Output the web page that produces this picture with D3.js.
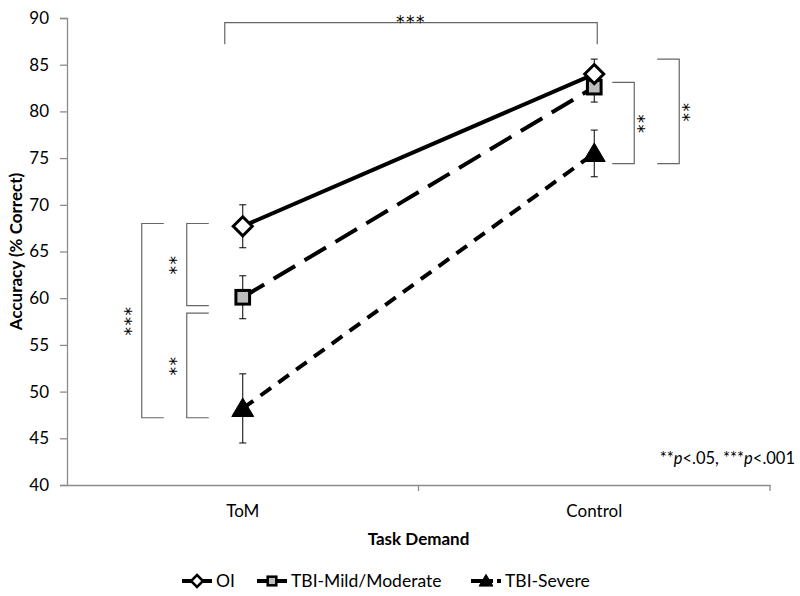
<!DOCTYPE html>
<html>
<head>
<meta charset="utf-8">
<script src="https://cdn.jsdelivr.net/npm/d3@7"></script>
<style>
  body { margin: 0; background: #fff; }
  text { font-family: Lato, "Open Sans", sans-serif; fill: #000; }
  .stars { font-family: "DejaVu Sans", sans-serif; }
</style>
</head>
<body>
<div id="chart"></div>
<script>
const svgWidth = 800, svgHeight = 596;

// data
const categories = ['ToM', 'Control'];
const seriesNames = ['OI', 'TBI-Mild/Moderate', 'TBI-Severe'];
const oiValues = [67.7, 84.0];
const mildValues = [60.1, 82.6];
const severeValues = [48.2, 75.5];
const oiErrors = [2.3, 1.6];
const mildErrors = [2.3, 1.6];
const severeErrors = [3.7, 2.5];
const yTicks = [40, 45, 50, 55, 60, 65, 70, 75, 80, 85, 90];

// significance brackets (values in % correct)
const leftBrackets = [
  { top: 68.0, bottom: 47.2, label: '***', level: 0 },
  { top: 68.0, bottom: 59.2, label: '**', level: 1 },
  { top: 58.4, bottom: 47.2, label: '**', level: 1 }
];
const rightBrackets = [
  { top: 83.1, bottom: 74.4, label: '**', level: 0 },
  { top: 85.6, bottom: 74.4, label: '**', level: 1 }
];
const topBracket = { y: 89.5, legEnd: 87.2, label: '***' };

const margin = { top: 18, right: 30, bottom: 111, left: 67 };

const svg = d3.select('#chart').append('svg')
  .attr('width', svgWidth)
  .attr('height', svgHeight);

const x = d3.scaleBand()
  .domain(categories)
  .range([margin.left, svgWidth - margin.right]);

const y = d3.scaleLinear()
  .domain([40, 90])
  .range([svgHeight - margin.bottom, margin.top]);

const cx = c => x(c) + x.bandwidth() / 2;

// axes
const yAxis = svg.append('g')
  .attr('transform', `translate(${margin.left},0)`)
  .call(d3.axisLeft(y).tickValues(yTicks).tickSize(7).tickPadding(11));
yAxis.selectAll('path, line').attr('stroke', '#8c8c8c').attr('stroke-width', 1.3);
yAxis.selectAll('text').style('font-size', '17px').attr('fill', '#000');

const xAxis = svg.append('g')
  .attr('transform', `translate(0,${y(40)})`)
  .call(d3.axisBottom(x).tickSize(0).tickPadding(20).tickSizeOuter(0));
xAxis.select('.domain').attr('stroke', '#8c8c8c').attr('stroke-width', 1.3);
xAxis.selectAll('text').style('font-size', '17px').attr('fill', '#000');
// tick marks between categories
xAxis.selectAll('.sep')
  .data([x('Control'), x.range()[1]])
  .enter().append('line')
  .attr('x1', d => d).attr('x2', d => d)
  .attr('y1', 0).attr('y2', 6)
  .attr('stroke', '#8c8c8c').attr('stroke-width', 1.3);

// axis titles
svg.append('text')
  .attr('transform', `translate(22,${(y(40) + y(90)) / 2}) rotate(-90)`)
  .attr('text-anchor', 'middle')
  .style('font-size', '17px').style('font-weight', 'bold')
  .text('Accuracy (% Correct)');

svg.append('text')
  .attr('x', (x.range()[0] + x.range()[1]) / 2)
  .attr('y', 545)
  .attr('text-anchor', 'middle')
  .style('font-size', '17px').style('font-weight', 'bold')
  .text('Task Demand');

// series
const series = [
  { name: seriesNames[0], values: oiValues, errors: oiErrors, dash: null, shape: 'diamond' },
  { name: seriesNames[1], values: mildValues, errors: mildErrors, dash: '25,11', shape: 'square' },
  { name: seriesNames[2], values: severeValues, errors: severeErrors, dash: '13,9', shape: 'triangle' }
];

const line = d3.line()
  .x((d, i) => cx(categories[i]))
  .y(d => y(d));

function drawMarker(g, shape, size) {
  if (shape === 'diamond') {
    g.append('path')
      .attr('d', `M0,${-size}L${size},0L0,${size}L${-size},0Z`)
      .attr('fill', '#fff').attr('stroke', '#000').attr('stroke-width', size > 7 ? 3 : 2.5);
  } else if (shape === 'square') {
    const s = size * 0.72;
    g.append('rect')
      .attr('x', -s).attr('y', -s).attr('width', 2 * s).attr('height', 2 * s)
      .attr('fill', '#bdbdbd').attr('stroke', '#000').attr('stroke-width', size > 7 ? 3 : 2.5);
  } else {
    g.append('path')
      .attr('d', `M0,${-size * 1.1}L${size * 1.15},${size * 0.85}L${-size * 1.15},${size * 0.85}Z`)
      .attr('fill', '#000').attr('stroke', '#000').attr('stroke-width', 1);
  }
}

// error bars (behind markers)
series.forEach(s => {
  const eg = svg.append('g');
  s.values.forEach((v, i) => {
    const px = cx(categories[i]);
    eg.append('line')
      .attr('x1', px).attr('x2', px)
      .attr('y1', y(v + s.errors[i])).attr('y2', y(v - s.errors[i]))
      .attr('stroke', '#000').attr('stroke-width', 1);
    [v + s.errors[i], v - s.errors[i]].forEach(e => {
      eg.append('line')
        .attr('x1', px - 3.5).attr('x2', px + 3.5)
        .attr('y1', y(e)).attr('y2', y(e))
        .attr('stroke', '#000').attr('stroke-width', 1);
    });
  });
});

// lines, drawn so the first series is on top
series.slice().reverse().forEach(s => {
  svg.append('path')
    .datum(s.values)
    .attr('d', line)
    .attr('fill', 'none')
    .attr('stroke', '#000')
    .attr('stroke-width', 4)
    .attr('stroke-dasharray', s.dash);
});

series.slice().reverse().forEach(s => {
  s.values.forEach((v, i) => {
    const g = svg.append('g').attr('transform', `translate(${cx(categories[i])},${y(v)})`);
    drawMarker(g, s.shape, 9.5);
  });
});

// brackets
const bracketColor = '#666';
const tomX = cx('ToM'), ctlX = cx('Control');

// stars written sideways (one text element), visually centred on (px, py)
function vStars(px, py, label) {
  svg.append('text')
    .attr('class', 'stars')
    .attr('transform', `translate(${px + 9.5},${py}) rotate(-90)`)
    .attr('text-anchor', 'middle')
    .style('font-size', '17px')
    .style('letter-spacing', '1.5px')
    .text(label);
}

leftBrackets.forEach(b => {
  const vx = tomX - 101 + b.level * 45;
  const hx = vx + 22;
  svg.append('path')
    .attr('d', `M${hx},${y(b.top)}H${vx}V${y(b.bottom)}H${hx}`)
    .attr('fill', 'none').attr('stroke', bracketColor).attr('stroke-width', 1.2);
  vStars(vx - 14, (y(b.top) + y(b.bottom)) / 2, b.label);
});

rightBrackets.forEach(b => {
  const hx = ctlX + 18 + b.level * 45;
  const vx = hx + 22;
  svg.append('path')
    .attr('d', `M${hx},${y(b.top)}H${vx}V${y(b.bottom)}H${hx}`)
    .attr('fill', 'none').attr('stroke', bracketColor).attr('stroke-width', 1.2);
  vStars(vx + 6, (y(b.top) + y(b.bottom)) / 2, b.label);
});

svg.append('path')
  .attr('d', `M${tomX - 18},${y(topBracket.legEnd)}V${y(topBracket.y)}H${ctlX + 3}V${y(topBracket.legEnd)}`)
  .attr('fill', 'none').attr('stroke', bracketColor).attr('stroke-width', 1.2);
svg.append('text')
  .attr('class', 'stars')
  .attr('x', (tomX - 18 + ctlX + 3) / 2)
  .attr('y', y(topBracket.y) + 5)
  .attr('text-anchor', 'middle')
  .style('font-size', '17px')
  .style('letter-spacing', '1.5px')
  .text(topBracket.label);

// p-value note
const note = svg.append('text')
  .attr('x', 795).attr('y', 464)
  .attr('text-anchor', 'end')
  .style('font-size', '16.5px');
note.append('tspan').text('**');
note.append('tspan').style('font-style', 'italic').text('p');
note.append('tspan').text('<.05, ***');
note.append('tspan').style('font-style', 'italic').text('p');
note.append('tspan').text('<.001');

// legend
const legendItems = [
  { s: series[0], x: 182 },
  { s: series[1], x: 257 },
  { s: series[2], x: 471 }
];
legendItems.forEach(item => {
  const g = svg.append('g').attr('transform', `translate(${item.x},581)`);
  g.append('line')
    .attr('x1', 0).attr('x2', 30)
    .attr('stroke', '#000').attr('stroke-width', 4)
    .attr('stroke-dasharray', item.s.shape === 'triangle' ? '22,4' : null);
  const m = g.append('g').attr('transform', 'translate(15,0)');
  drawMarker(m, item.s.shape, 6);
  g.append('text')
    .attr('x', 34).attr('dy', '0.36em')
    .style('font-size', '17.5px')
    .text(item.s.name);
});
</script>
</body>
</html>
